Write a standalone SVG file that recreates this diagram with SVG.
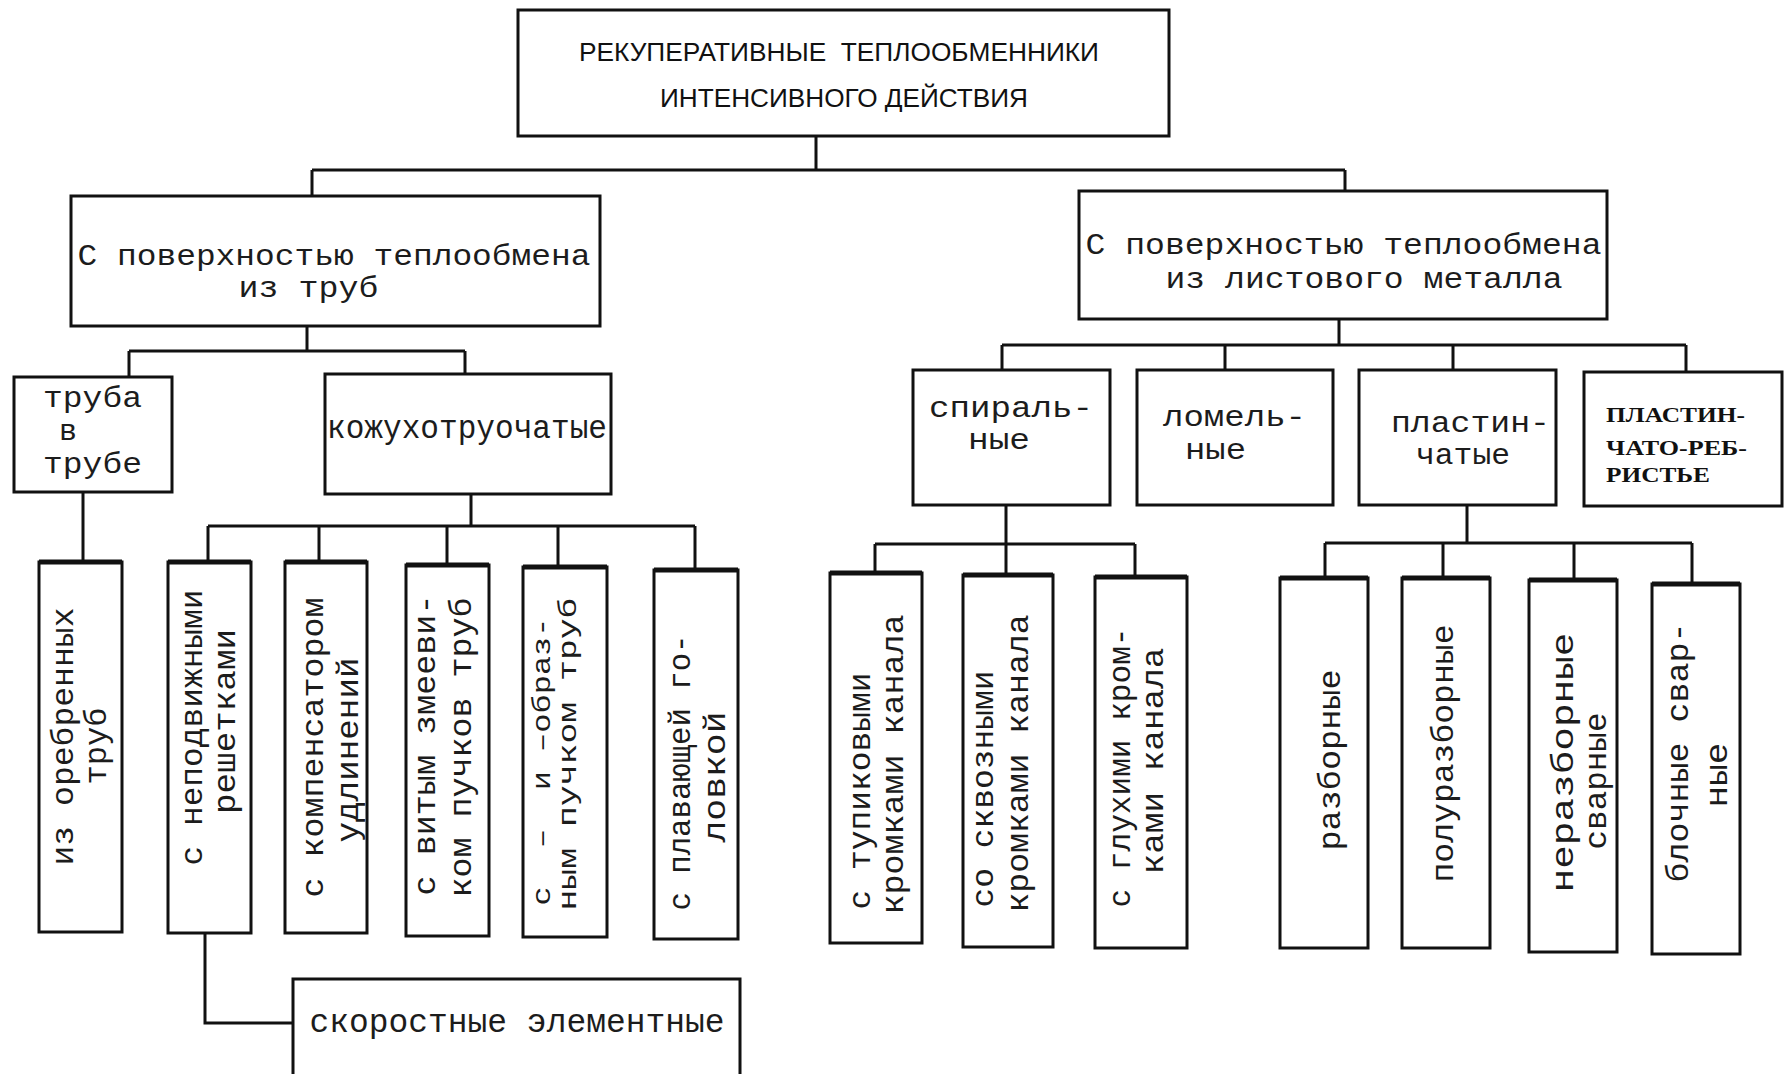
<svg xmlns="http://www.w3.org/2000/svg" width="1789" height="1074" viewBox="0 0 1789 1074">
<style>
.box{fill:#fff;stroke:#111;stroke-width:3}
.top{stroke:#111;stroke-width:5;fill:none}
.conn{fill:none;stroke:#111;stroke-width:3}
.mono{font-family:"Liberation Mono","DejaVu Sans Mono",monospace;font-size:32.5px;fill:#1c1c1c}
.m2{font-size:30px}
.rot{font-size:31px}
.tight{font-size:25px}
.title{font-family:"Liberation Sans",Arial,sans-serif;font-size:25px;fill:#111}
.bold{font-family:"Liberation Serif","Times New Roman",serif;font-weight:bold;font-size:22px;fill:#111}
</style>
<rect width="1789" height="1074" fill="#fff"/>
<g id="connectors">
<path class="conn" d="M816,136 V170 M312,170 H1345 M312,170 V196 M1345,170 V191"/>
<path class="conn" d="M307,326 V351 M129,351 H465 M129,351 V377 M465,351 V374"/>
<path class="conn" d="M83,492 V562"/>
<path class="conn" d="M471,494 V526 M208,526 H695 M208,526 V562 M319,526 V562 M447,526 V565 M558,526 V567 M695,526 V570"/>
<path class="conn" d="M205,933 V1023 H293"/>
<path class="conn" d="M1339,319 V345 M1002,345 H1686 M1002,345 V370 M1225,345 V370 M1453,345 V370 M1686,345 V372"/>
<path class="conn" d="M1006,505 V544 M875,544 H1135 M875,544 V573 M1006,544 V580 M1135,544 V577"/>
<path class="conn" d="M1467,505 V543 M1325,543 H1692 M1325,543 V578 M1443,543 V578 M1574,543 V580 M1692,543 V584"/>
</g>
<g id="root">
<rect class="box" x="518" y="10" width="651" height="126"/>
<text class="title" x="579" y="61" textLength="520" lengthAdjust="spacingAndGlyphs" xml:space="preserve">РЕКУПЕРАТИВНЫЕ  ТЕПЛООБМЕННИКИ</text>
<text class="title" x="660" y="107" textLength="368" lengthAdjust="spacingAndGlyphs">ИНТЕНСИВНОГО ДЕЙСТВИЯ</text>
</g>
<g id="tubes">
<rect class="box" x="71" y="196" width="529" height="130"/>
<text class="mono m2" x="77.5" y="265" textLength="513" lengthAdjust="spacingAndGlyphs">С поверхностью теплообмена</text>
<text class="mono m2" x="238.5" y="297" textLength="140" lengthAdjust="spacingAndGlyphs">из труб</text>
</g>
<g id="sheet">
<rect class="box" x="1079" y="191" width="528" height="128"/>
<text class="mono m2" x="1085.5" y="254" textLength="516" lengthAdjust="spacingAndGlyphs">С поверхностью теплообмена</text>
<text class="mono m2" x="1165.5" y="288" textLength="397" lengthAdjust="spacingAndGlyphs">из листового металла</text>
</g>
<g id="tube-in-tube">
<rect class="box" x="14" y="377" width="158" height="115"/>
<text class="mono m2" x="43" y="407" textLength="99" lengthAdjust="spacingAndGlyphs">труба</text>
<text class="mono m2" x="59" y="440">в</text>
<text class="mono m2" x="43" y="473" textLength="99" lengthAdjust="spacingAndGlyphs">трубе</text>
</g>
<g id="shell-tube">
<rect class="box" x="325" y="374" width="286" height="120"/>
<text class="mono" x="327" y="438" textLength="280" lengthAdjust="spacingAndGlyphs">кожухотруочатые</text>
</g>
<g id="finned">
<rect class="box" x="39" y="562" width="83" height="370"/>
<path class="top" d="M39,562 H122"/>
<text class="mono rot" transform="translate(73,865.5) rotate(-90)" textLength="258" lengthAdjust="spacingAndGlyphs">из оребренных</text>
<text class="mono rot" transform="translate(106,784.5) rotate(-90)" textLength="77" lengthAdjust="spacingAndGlyphs">труб</text>
</g>
<g id="fixed">
<rect class="box" x="168" y="562" width="83" height="371"/>
<path class="top" d="M168,562 H251"/>
<text class="mono rot" transform="translate(201.5,865.5) rotate(-90)" textLength="276" lengthAdjust="spacingAndGlyphs">с неподвижными</text>
<text class="mono rot" transform="translate(234.5,814) rotate(-90)" textLength="185" lengthAdjust="spacingAndGlyphs">решетками</text>
</g>
<g id="compensator">
<rect class="box" x="285" y="562" width="82" height="371"/>
<path class="top" d="M285,562 H367"/>
<text class="mono rot" transform="translate(323,897.5) rotate(-90)" textLength="300" lengthAdjust="spacingAndGlyphs">с компенсатором</text>
<text class="mono rot" transform="translate(358,842.5) rotate(-90)" textLength="185" lengthAdjust="spacingAndGlyphs">удлинений</text>
</g>
<g id="coil">
<rect class="box" x="406" y="565" width="83" height="371"/>
<path class="top" d="M406,565 H489"/>
<text class="mono rot" transform="translate(435,895.5) rotate(-90)" textLength="301" lengthAdjust="spacingAndGlyphs">с витым змееви-</text>
<text class="mono rot" transform="translate(471,897.5) rotate(-90)" textLength="300" lengthAdjust="spacingAndGlyphs">ком пучков труб</text>
</g>
<g id="u-w">
<rect class="box" x="523" y="567" width="84" height="370"/>
<path class="top" d="M523,567 H607"/>
<text class="mono tight" transform="translate(550,905.5) rotate(-90)" textLength="288" lengthAdjust="spacingAndGlyphs" xml:space="preserve">с  –  и –образ-</text>
<text class="mono tight" transform="translate(576,910.5) rotate(-90)" textLength="313" lengthAdjust="spacingAndGlyphs">ным пучком труб</text>
</g>
<g id="floating">
<rect class="box" x="654" y="570" width="84" height="369"/>
<path class="top" d="M654,570 H738"/>
<text class="mono rot" transform="translate(690,910.5) rotate(-90)" textLength="276" lengthAdjust="spacingAndGlyphs">с плавающей го-</text>
<text class="mono rot" transform="translate(725,842.5) rotate(-90)" textLength="131" lengthAdjust="spacingAndGlyphs">ловкой</text>
</g>
<g id="high-speed">
<rect class="box" x="293" y="979" width="447" height="130"/>
<text class="mono" x="309.5" y="1032" textLength="415" lengthAdjust="spacingAndGlyphs">скоростные элементные</text>
</g>
<g id="spiral">
<rect class="box" x="913" y="370" width="197" height="135"/>
<text class="mono m2" x="929" y="417" textLength="164" lengthAdjust="spacingAndGlyphs">спираль-</text>
<text class="mono m2" x="968" y="449" textLength="62" lengthAdjust="spacingAndGlyphs">ные</text>
</g>
<g id="lamella">
<rect class="box" x="1137" y="370" width="196" height="135"/>
<text class="mono m2" x="1163" y="426" textLength="143" lengthAdjust="spacingAndGlyphs">ломель-</text>
<text class="mono m2" x="1185" y="459" textLength="61" lengthAdjust="spacingAndGlyphs">ные</text>
</g>
<g id="plate">
<rect class="box" x="1359" y="370" width="197" height="135"/>
<text class="mono m2" x="1391" y="432" textLength="159" lengthAdjust="spacingAndGlyphs">пластин-</text>
<text class="mono m2" x="1416" y="464" textLength="94" lengthAdjust="spacingAndGlyphs">чатые</text>
</g>
<g id="plate-fin">
<rect class="box" x="1584" y="372" width="198" height="134"/>
<text class="bold" x="1606" y="422" textLength="139" lengthAdjust="spacingAndGlyphs">ПЛАСТИН-</text>
<text class="bold" x="1606" y="455" textLength="141" lengthAdjust="spacingAndGlyphs">ЧАТО-РЕБ-</text>
<text class="bold" x="1606" y="482" textLength="104" lengthAdjust="spacingAndGlyphs">РИСТЬЕ</text>
</g>
<g id="dead-end">
<rect class="box" x="830" y="573" width="92" height="370"/>
<path class="top" d="M830,573 H922"/>
<text class="mono rot" transform="translate(870,909.5) rotate(-90)" textLength="237" lengthAdjust="spacingAndGlyphs">с тупиковыми</text>
<text class="mono rot" transform="translate(903,914.5) rotate(-90)" textLength="300" lengthAdjust="spacingAndGlyphs">кромками канала</text>
</g>
<g id="through">
<rect class="box" x="963" y="575" width="90" height="372"/>
<path class="top" d="M963,575 H1053"/>
<text class="mono rot" transform="translate(993,907.5) rotate(-90)" textLength="237" lengthAdjust="spacingAndGlyphs">со сквозными</text>
<text class="mono rot" transform="translate(1028,912.5) rotate(-90)" textLength="298" lengthAdjust="spacingAndGlyphs">кромками канала</text>
</g>
<g id="blind">
<rect class="box" x="1095" y="577" width="92" height="371"/>
<path class="top" d="M1095,577 H1187"/>
<text class="mono rot" transform="translate(1130,907.5) rotate(-90)" textLength="280" lengthAdjust="spacingAndGlyphs">с глухими кром-</text>
<text class="mono rot" transform="translate(1163,874.5) rotate(-90)" textLength="227" lengthAdjust="spacingAndGlyphs">ками канала</text>
</g>
<g id="demountable">
<rect class="box" x="1280" y="578" width="88" height="370"/>
<path class="top" d="M1280,578 H1368"/>
<text class="mono rot" transform="translate(1340,850.5) rotate(-90)" textLength="181" lengthAdjust="spacingAndGlyphs">разборные</text>
</g>
<g id="semi-demountable">
<rect class="box" x="1402" y="578" width="88" height="370"/>
<path class="top" d="M1402,578 H1490"/>
<text class="mono rot" transform="translate(1453,882.5) rotate(-90)" textLength="258" lengthAdjust="spacingAndGlyphs">полуразборные</text>
</g>
<g id="welded">
<rect class="box" x="1529" y="580" width="88" height="372"/>
<path class="top" d="M1529,580 H1617"/>
<text class="mono rot" transform="translate(1572.5,892.5) rotate(-90)" textLength="260" lengthAdjust="spacingAndGlyphs">неразборные</text>
<text class="mono rot" transform="translate(1605.5,849.5) rotate(-90)" textLength="137" lengthAdjust="spacingAndGlyphs">сварные</text>
</g>
<g id="block-welded">
<rect class="box" x="1652" y="584" width="88" height="370"/>
<path class="top" d="M1652,584 H1740"/>
<text class="mono rot" transform="translate(1688,882.5) rotate(-90)" textLength="260" lengthAdjust="spacingAndGlyphs">блочные свар-</text>
<text class="mono rot" transform="translate(1727,807.5) rotate(-90)" textLength="65" lengthAdjust="spacingAndGlyphs">ные</text>
</g>
</svg>
